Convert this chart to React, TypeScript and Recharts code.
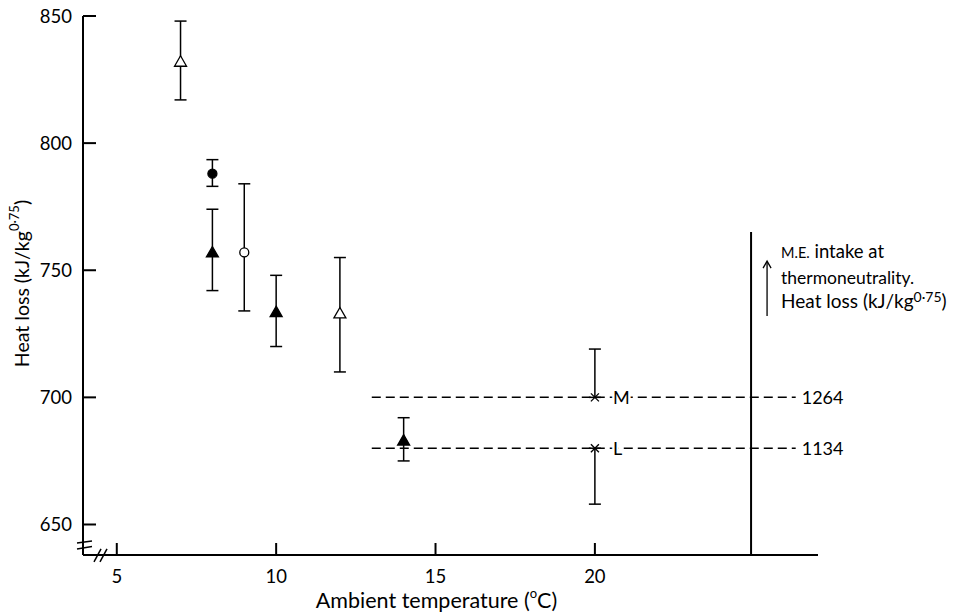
import React from 'react';
import { ScatterChart, Scatter, XAxis, YAxis, ErrorBar, ReferenceLine } from 'recharts';

const FONT = 'Lato, "Open Sans", sans-serif';

// axis ticks
const xTicks = [5, 10, 15, 20];
const yTicks = [650, 700, 750, 800, 850];
const xDomain = [3.94, 27];
const yDomain = [638, 850];

// series: err = [below, above]
const openTriangles = [
  { x: 7, y: 832, err: [15, 16] },
  { x: 12, y: 733, err: [23, 22] },
];
const filledCircles = [{ x: 8, y: 788, err: [5, 5.5] }];
const filledTriangles = [
  { x: 8, y: 757, err: [15, 17] },
  { x: 10, y: 733.5, err: [13.5, 14.5] },
  { x: 14, y: 683, err: [8, 9] },
];
const openCircles = [{ x: 9, y: 757, err: [23, 27] }];
const crosses = [
  { x: 20, y: 700, err: [0, 19], label: 'M' },
  { x: 20, y: 680, err: [22, 0], label: 'L' },
];

// horizontal dashed lines (M.E. intake levels)
const intakeLines = [
  { y: 700, from: 13, to: 26.3, label: '1264' },
  { y: 680, from: 13, to: 26.3, label: '1134' },
];
// vertical line (thermoneutrality heat-loss axis)
const thermoLine = { x: 24.9, from: 638, to: 765 };

// axis break marks in data coordinates
const yBreak = [
  [{ x: 3.752, y: 642.7 }, { x: 4.222, y: 643.5 }],
  [{ x: 3.752, y: 640.4 }, { x: 4.222, y: 641.3 }],
];
const yBreakGap = [{ x: 3.85, y: 641.7 }, { x: 4.12, y: 642.2 }];
const xBreak = [
  [{ x: 4.285, y: 635.3 }, { x: 4.505, y: 640.4 }],
  [{ x: 4.473, y: 635.3 }, { x: 4.693, y: 640.4 }],
];
const xBreakGap = [{ x: 4.39, y: 636.6 }, { x: 4.59, y: 639.2 }];

const YTick = (props: any) => {
  const { x, y, payload } = props;
  return (
    <g>
      <line x1={x} x2={x + 13} y1={y} y2={y} stroke="#000" strokeWidth={2} />
      <text x={x - 11} y={y} textAnchor="end" dominantBaseline="central" fontSize={18.5} fontFamily={FONT} fill="#000">
        {payload.value}
      </text>
    </g>
  );
};

const XTick = (props: any) => {
  const { x, y, payload } = props;
  return (
    <g>
      <line x1={x} x2={x} y1={y} y2={y - 12} stroke="#000" strokeWidth={2} />
      <text x={x} y={y + 21} textAnchor="middle" dominantBaseline="central" fontSize={18.5} fontFamily={FONT} fill="#000">
        {payload.value}
      </text>
    </g>
  );
};

const tri = (filled: boolean) => (props: any) => {
  const { cx, cy } = props;
  return (
    <path
      d={`M${cx},${cy - 6}L${cx + 6},${cy + 4.5}L${cx - 6},${cy + 4.5}Z`}
      fill={filled ? '#000' : '#fff'}
      stroke="#000"
      strokeWidth={1.3}
    />
  );
};

const circ = (filled: boolean) => (props: any) => {
  const { cx, cy } = props;
  return <circle cx={cx} cy={cy} r={4.5} fill={filled ? '#000' : '#fff'} stroke="#000" strokeWidth={1.3} />;
};

const crossShape = (props: any) => {
  const { cx, cy, payload } = props;
  return (
    <g>
      <line x1={cx - 4} y1={cy - 4} x2={cx + 4} y2={cy + 4} stroke="#000" strokeWidth={1.3} />
      <line x1={cx - 4} y1={cy + 4} x2={cx + 4} y2={cy - 4} stroke="#000" strokeWidth={1.3} />
      <text
        x={cx + 18}
        y={cy}
        dominantBaseline="central"
        fontSize={18}
        fontFamily={FONT}
        fill="#000"
        stroke="#fff"
        strokeWidth={5}
        paintOrder="stroke"
      >
        {payload.label}
      </text>
    </g>
  );
};

const ThermoLabel = (props: any) => {
  const vb = props.viewBox || {};
  const x = vb.x;
  const top = vb.y;
  const tx = x + 30;
  return (
    <g fontFamily={FONT} fill="#000">
      <line x1={x + 16} x2={x + 16} y1={top + 30} y2={top + 84} stroke="#000" strokeWidth={1.3} />
      <path d={`M${x + 12},${top + 36}L${x + 16},${top + 29}L${x + 20},${top + 36}`} fill="none" stroke="#000" strokeWidth={1.3} />
      <text x={tx} y={top + 26} fontSize={18.5}>
        <tspan fontSize={14.5}>M.E.</tspan>
        <tspan> intake at</tspan>
      </text>
      <text x={tx} y={top + 52} fontSize={17.5}>thermoneutrality.</text>
      <text x={tx} y={top + 76} fontSize={19}>
        Heat loss (kJ/kg
        <tspan fontSize={14} dy={-6}>0·75</tspan>
        <tspan dy={6}>)</tspan>
      </text>
    </g>
  );
};

const YLabel = (props: any) => {
  const vb = props.viewBox || {};
  const cx = vb.x - 2;
  const cy = vb.y + vb.height / 2 - 2;
  return (
    <text
      x={cx}
      y={cy}
      transform={`rotate(-90, ${cx}, ${cy})`}
      textAnchor="middle"
      dominantBaseline="central"
      fontSize={19.5}
      fontFamily={FONT}
      fill="#000"
    >
      Heat loss (kJ/kg
      <tspan fontSize={13} dy={-7}>0·75</tspan>
      <tspan dy={7}>)</tspan>
    </text>
  );
};

const XLabel = (props: any) => {
  const vb = props.viewBox || {};
  const cx = vb.x + vb.width / 2 - 14;
  const cy = vb.y + 45;
  return (
    <text x={cx} y={cy} textAnchor="middle" dominantBaseline="central" fontSize={21.5} fontFamily={FONT} fill="#000">
      Ambient temperature (
      <tspan fontSize={13} dy={-7}>o</tspan>
      <tspan dy={7}>C)</tspan>
    </text>
  );
};

export default function App() {
  return (
    <div style={{ position: 'absolute', left: 0, top: 0, background: '#fff' }}>
      <ScatterChart width={970} height={612} margin={{ top: 16, right: 152, bottom: 27, left: 23 }}>
        <XAxis
          type="number"
          dataKey="x"
          domain={xDomain}
          allowDataOverflow
          ticks={xTicks}
          tick={<XTick />}
          tickLine={false}
          tickSize={0}
          tickMargin={0}
          height={30}
          axisLine={{ stroke: '#000', strokeWidth: 2 }}
          label={{ content: XLabel }}
        />
        <YAxis
          type="number"
          dataKey="y"
          domain={yDomain}
          allowDataOverflow
          ticks={yTicks}
          tick={<YTick />}
          tickLine={false}
          tickSize={0}
          tickMargin={0}
          width={60}
          axisLine={{ stroke: '#000', strokeWidth: 2 }}
          label={{ content: YLabel }}
        />
        {intakeLines.map((l) => (
          <ReferenceLine
            key={l.label}
            segment={[{ x: l.from, y: l.y }, { x: l.to, y: l.y }]}
            stroke="#000"
            strokeWidth={1.5}
            strokeDasharray="9 5"
            ifOverflow="visible"
            label={{ value: l.label, position: 'right', offset: 6, fill: '#000', fontSize: 18, fontFamily: FONT }}
          />
        ))}
        <ReferenceLine
          segment={[{ x: thermoLine.x, y: thermoLine.from }, { x: thermoLine.x, y: thermoLine.to }]}
          stroke="#000"
          strokeWidth={2}
          ifOverflow="visible"
          label={{ content: ThermoLabel }}
        />
        <ReferenceLine segment={yBreakGap} stroke="#fff" strokeWidth={6} ifOverflow="visible" />
        <ReferenceLine segment={xBreakGap} stroke="#fff" strokeWidth={5} ifOverflow="visible" />
        {yBreak.map((s, i) => (
          <ReferenceLine key={'yb' + i} segment={s} stroke="#000" strokeWidth={1.5} ifOverflow="visible" />
        ))}
        {xBreak.map((s, i) => (
          <ReferenceLine key={'xb' + i} segment={s} stroke="#000" strokeWidth={1.5} ifOverflow="visible" />
        ))}
        <Scatter data={openTriangles} shape={tri(false)} isAnimationActive={false}>
          <ErrorBar dataKey="err" direction="y" width={6} stroke="#000" strokeWidth={1.5} isAnimationActive={false} />
        </Scatter>
        <Scatter data={filledCircles} shape={circ(true)} isAnimationActive={false}>
          <ErrorBar dataKey="err" direction="y" width={6} stroke="#000" strokeWidth={1.5} isAnimationActive={false} />
        </Scatter>
        <Scatter data={filledTriangles} shape={tri(true)} isAnimationActive={false}>
          <ErrorBar dataKey="err" direction="y" width={6} stroke="#000" strokeWidth={1.5} isAnimationActive={false} />
        </Scatter>
        <Scatter data={openCircles} shape={circ(false)} isAnimationActive={false}>
          <ErrorBar dataKey="err" direction="y" width={6} stroke="#000" strokeWidth={1.5} isAnimationActive={false} />
        </Scatter>
        <Scatter data={crosses} shape={crossShape} isAnimationActive={false}>
          <ErrorBar dataKey="err" direction="y" width={6} stroke="#000" strokeWidth={1.5} isAnimationActive={false} />
        </Scatter>
      </ScatterChart>
    </div>
  );
}
